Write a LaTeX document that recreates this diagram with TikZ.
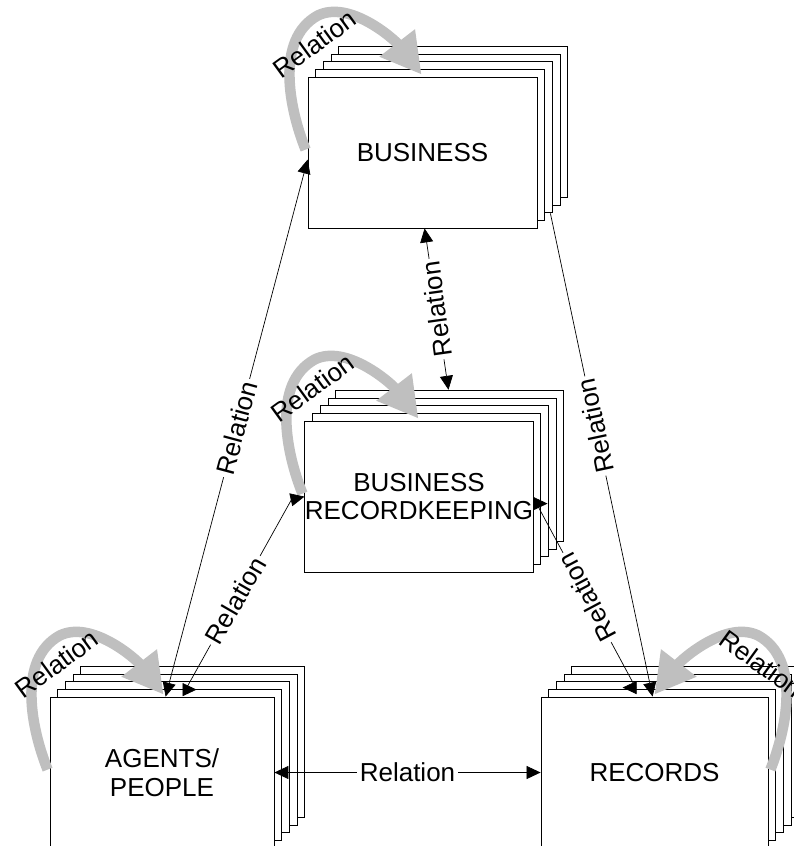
\documentclass[tikz,border=0pt]{standalone}
\usepackage{fontspec}
\setmainfont{Liberation Sans}
\usetikzlibrary{arrows.meta}

% A stack of sheets: four back sheets offset up and right, then the front sheet as a named node.
% #1 name, #2 centre x, #3 centre y, #4 width, #5 text
\newcommand\sheetstack[5]{%
  \foreach \k in {4,3,2,1}
    \draw[sheet] ({#2-#4/2+7.7*\k},{#3-75.5-7.7*\k}) rectangle +(#4,151);
  \node[box, minimum width=#4pt] (#1) at (#2,#3) {#5};
}

\begin{document}
\begin{tikzpicture}[x=1pt,y=-1pt,
  >={Triangle[length=14pt,width=13pt]},
  sheet/.style={draw=black, fill=white, line width=0.8pt},
  box/.style={sheet, rectangle, inner sep=0pt, minimum height=151pt,
    align=center, font=\fontsize{26}{28.5}\selectfont},
  rel/.style={draw=black, line width=0.7pt},
  lbl/.style={fill=white, inner xsep=3pt, inner ysep=1pt,
    font=\fontsize{26}{28.5}\selectfont},
  looplbl/.style={inner sep=0pt, font=\fontsize{26}{28.5}\selectfont},
  selfloop/.style={draw=gray!50, line width=10.5pt,
    -{Triangle[length=40pt,width=42pt]}},
]
\useasboundingbox (0,0) rectangle (794,846);
\clip (0,0) rectangle (794,846);

% sheet stacks
\sheetstack{biz}{422.5}{152.5}{229}{BUSINESS}
\sheetstack{brk}{419}{496.5}{228}{BUSINESS\\RECORDKEEPING}
\sheetstack{ag}{162}{772.5}{224}{AGENTS/\\PEOPLE}
\sheetstack{rec}{654.5}{772.5}{227}{RECORDS}

% self relations
\draw[selfloop] ([shift={(-2,73)}]biz.north west)
  .. controls +(-16,-40) and +(-43,24) .. ([shift={(10,-61)}]biz.north west)
  .. controls +(32,-16) and +(-27,-35) .. ([shift={(114,-2)}]biz.north west);
\draw[selfloop] ([shift={(-2,73)}]brk.north west)
  .. controls +(-16,-40) and +(-43,24) .. ([shift={(10,-61)}]brk.north west)
  .. controls +(32,-16) and +(-27,-35) .. ([shift={(114,-2)}]brk.north west);
\draw[selfloop] ([shift={(-2,73)}]ag.north west)
  .. controls +(-16,-40) and +(-43,24) .. ([shift={(10,-61)}]ag.north west)
  .. controls +(32,-16) and +(-27,-35) .. ([shift={(114,-2)}]ag.north west);
\draw[selfloop] ([shift={(2,73)}]rec.north east)
  .. controls +(16,-40) and +(43,24) .. ([shift={(-10,-61)}]rec.north east)
  .. controls +(-32,-16) and +(27,-35) .. ([shift={(-114,-2)}]rec.north east);

\node[looplbl, rotate=36] (lbiz) at ([shift={(7,-33)}]biz.north west) {Relation};
\node[looplbl, rotate=36] (lbrk) at ([shift={(8,-33)}]brk.north west) {Relation};
\node[looplbl, rotate=36] (lag) at ([shift={(7,-33)}]ag.north west) {Relation};
\node[looplbl, rotate=-36] (lrec) at ([shift={(-7,-33)}]rec.north east) {Relation};

% connector end points
\coordinate (agTop) at ([shift={(116,0)}]ag.north west);
\coordinate (bizLeft) at ([shift={(0,83)}]biz.north west);
\coordinate (bizBottom) at ([shift={(117,0)}]biz.south west);
\coordinate (brkTop) at ([shift={(144,-30.8)}]brk.north west);
\coordinate (bizCorner) at ([shift={(13,-15)}]biz.south east);
\coordinate (recTopA) at ([shift={(112,0)}]rec.north west);
\coordinate (agTip) at ([shift={(147,-7)}]ag.north west);
\coordinate (agBend) at ([shift={(136,-7)}]ag.north west);
\coordinate (brkBendL) at ([shift={(-13,79)}]brk.north west);
\coordinate (brkTipL) at ([shift={(0,76)}]brk.north west);
\coordinate (brkTipR) at ([shift={(14,83)}]brk.north east);
\coordinate (brkBendR) at ([shift={(3,83)}]brk.north east);
\coordinate (recBend) at ([shift={(95,-9)}]rec.north west);
\coordinate (recTipB) at ([shift={(82,-9)}]rec.north west);

% relations between the stacks
\draw[rel,<->] (agTop) -- node[lbl, pos=0.5, rotate=75] {Relation} (bizLeft);
\draw[rel,<->] (bizBottom) -- node[lbl, pos=0.5, rotate=98] {Relation} (brkTop);
\draw[rel,->] (bizCorner) -- node[lbl, pos=0.44, rotate=102] {Relation} (recTopA);
\draw[rel,<->] (agTip) -- (agBend) -- node[lbl, pos=0.47, rotate=60] {Relation} (brkBendL) -- (brkTipL);
\draw[rel,<->] (brkTipR) -- (brkBendR) -- node[lbl, pos=0.51, rotate=118] {Relation} (recBend) -- (recTipB);
\draw[rel,<->] (ag.east) -- node[lbl] {Relation} (rec.west);
\end{tikzpicture}
\end{document}
